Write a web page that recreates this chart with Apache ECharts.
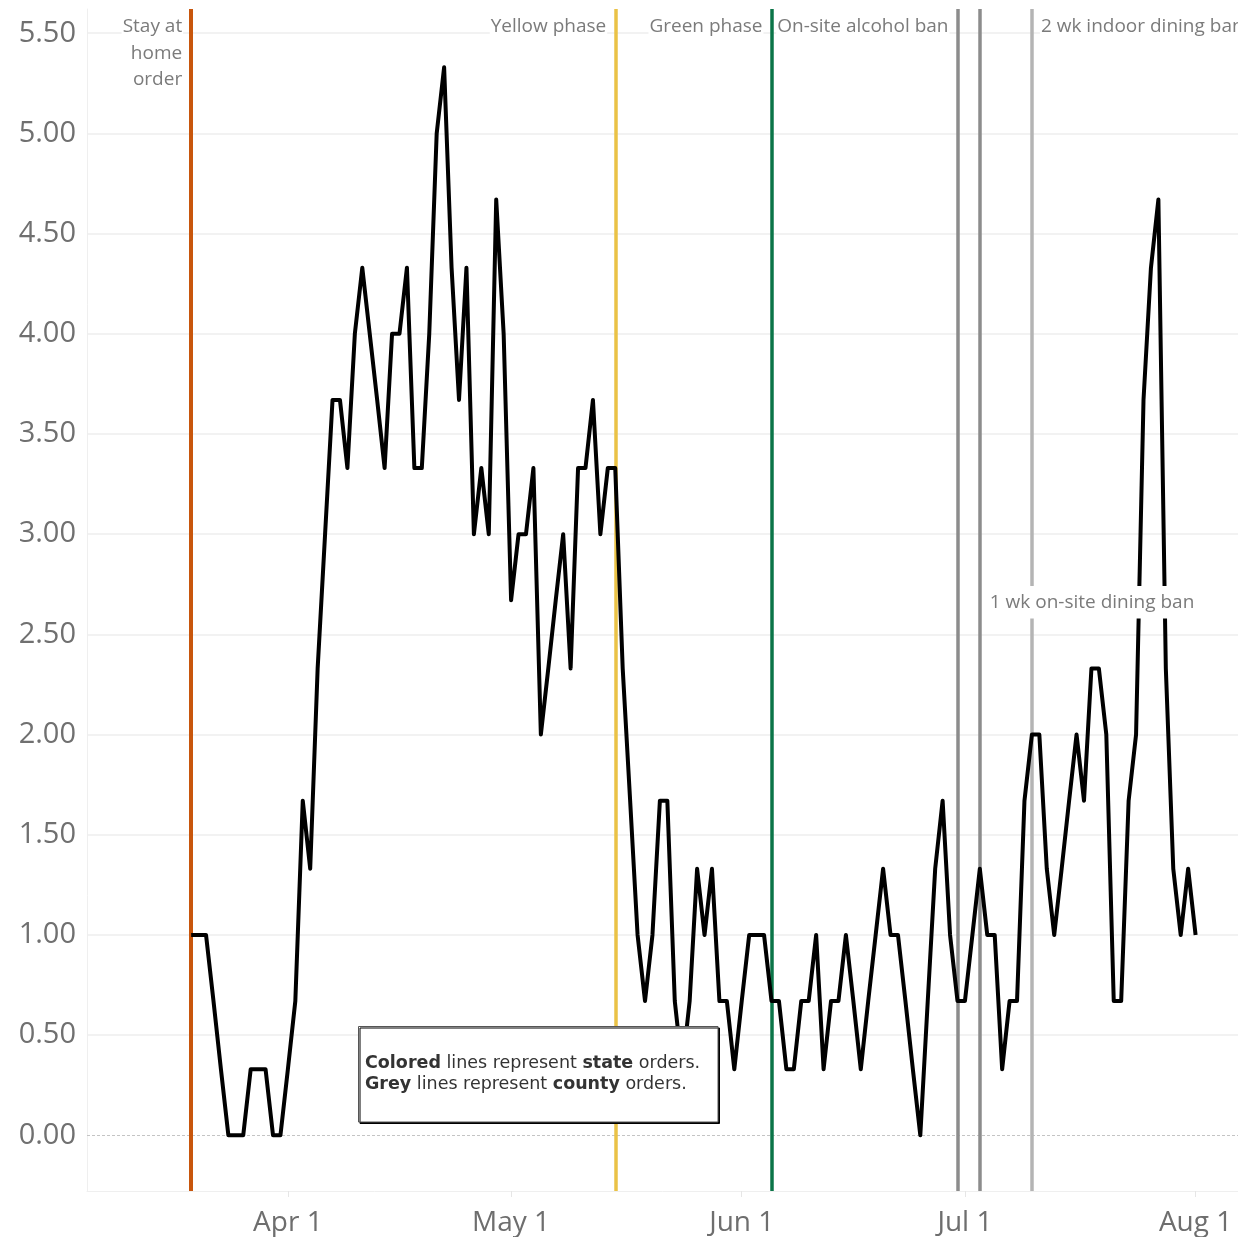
<!DOCTYPE html>
<html>
<head>
<meta charset="utf-8">
<script src="https://cdn.jsdelivr.net/npm/echarts@6/dist/echarts.min.js"></script>
<style>
  html, body { margin: 0; padding: 0; background: #ffffff; }
  #chart { width: 1238px; height: 1237px; }
</style>
</head>
<body>
<div id="chart"></div>
<script>
// ---------- DATA ----------
const startDate = '2020-03-19';   // first day of the series, one value per day
const dailyValues = [
  1.00, 1.00, 1.00, 0.67, 0.33, 0.00, 0.00, 0.00, 0.33, 0.33, 0.33, 0.00, 0.00,        // Mar 19 - Mar 31
  0.33, 0.67, 1.67, 1.33, 2.33, 3.00, 3.67, 3.67, 3.33, 4.00, 4.33, 4.00, 3.67, 3.33,  // Apr 1 - Apr 14
  4.00, 4.00, 4.33, 3.33, 3.33, 4.00, 5.00, 5.33, 4.33, 3.67, 4.33, 3.00, 3.33, 3.00,  // Apr 15 - Apr 28
  4.67, 4.00,                                                                          // Apr 29 - Apr 30
  2.67, 3.00, 3.00, 3.33, 2.00, 2.33, 2.67, 3.00, 2.33, 3.33, 3.33, 3.67, 3.00, 3.33,  // May 1 - May 14
  3.33, 2.33, 1.67, 1.00, 0.67, 1.00, 1.67, 1.67, 0.67, 0.33, 0.67, 1.33, 1.00, 1.33,  // May 15 - May 28
  0.67, 0.67, 0.33,                                                                    // May 29 - May 31
  0.67, 1.00, 1.00, 1.00, 0.67, 0.67, 0.33, 0.33, 0.67, 0.67, 1.00, 0.33, 0.67, 0.67,  // Jun 1 - Jun 14
  1.00, 0.67, 0.33, 0.67, 1.00, 1.33, 1.00, 1.00, 0.67, 0.33, 0.00, 0.67, 1.33, 1.67,  // Jun 15 - Jun 28
  1.00, 0.67,                                                                          // Jun 29 - Jun 30
  0.67, 1.00, 1.33, 1.00, 1.00, 0.33, 0.67, 0.67, 1.67, 2.00, 2.00, 1.33, 1.00, 1.33,  // Jul 1 - Jul 14
  1.67, 2.00, 1.67, 2.33, 2.33, 2.00, 0.67, 0.67, 1.67, 2.00, 3.67, 4.33, 4.67, 2.33,  // Jul 15 - Jul 28
  1.33, 1.00, 1.33,                                                                    // Jul 29 - Jul 31
  1.00                                                                                 // Aug 1
];
const yTicks = [0, 0.5, 1, 1.5, 2, 2.5, 3, 3.5, 4, 4.5, 5, 5.5];
const xTickDates = ['2020-04-01', '2020-05-01', '2020-06-01', '2020-07-01', '2020-08-01'];
const monthNames = ['Jan','Feb','Mar','Apr','May','Jun','Jul','Aug','Sep','Oct','Nov','Dec'];
const orderDates  = ['2020-03-19', '2020-05-15', '2020-06-05', '2020-06-30', '2020-07-03', '2020-07-10'];
const orderLabels = ['Stay at\nhome\norder', 'Yellow phase', 'Green phase', 'On-site alcohol ban', '1 wk on-site dining ban', '2 wk indoor dining ban'];

// ---------- STYLE (kept apart from data) ----------
const orderStyles = [
  { color: '#c8560c', width: 4,   side: 'left',  yPos: 5.40 },
  { color: '#eac246', width: 3.5, side: 'left',  yPos: 5.535 },
  { color: '#0b7548', width: 3.5, side: 'left',  yPos: 5.535 },
  { color: '#8c8c8c', width: 3.5, side: 'left',  yPos: 5.535 },
  { color: '#8c8c8c', width: 3.5, side: 'right', yPos: 2.66 },
  { color: '#b4b4b4', width: 3.5, side: 'right', yPos: 5.535 }
];

const DAY = 86400000;
function ts(s) { const p = s.split('-').map(Number); return Date.UTC(p[0], p[1] - 1, p[2]); }

const t0 = ts(startDate);
const seriesData = dailyValues.map((v, i) => [t0 + i * DAY, v]);

const gridMarks = yTicks.map(v => ({
  yAxis: v,
  lineStyle: v === 0 ? { color: '#c4c4c4', width: 1, type: [3, 2] } : { color: '#eeeeee', width: 1.5, type: 'solid' }
}));
const orderMarks = orderDates.map((d, i) => ({
  xAxis: ts(d),
  lineStyle: { color: orderStyles[i].color, width: orderStyles[i].width, type: 'solid' }
}));

const FONT = 'Open Sans';
const chart = echarts.init(document.getElementById('chart'), null, { renderer: 'canvas' });

const noteBox = [
  {
    type: 'rect',
    z: 100,
    shape: { x: 358.5, y: 1026.5, width: 359.5, height: 95.5 },
    style: { fill: '#ffffff', stroke: '#555555', lineWidth: 1,
             shadowColor: '#000000', shadowOffsetX: 1.5, shadowOffsetY: 1.5, shadowBlur: 0 }
  },
  {
    type: 'text',
    z: 101,
    x: 365,
    y: 1074,
    style: {
      text: '{b|Colored}{n| lines represent }{b|state}{n| orders.}\n{b|Grey}{n| lines represent }{b|county}{n| orders.}',
      verticalAlign: 'middle',
      align: 'left',
      fill: '#333333',
      font: '17.5px "DejaVu Sans"',
      lineHeight: 21,
      rich: {
        b: { fontFamily: 'DejaVu Sans', fontSize: 17.5, fontWeight: 'bold', fill: '#333333', lineHeight: 21 },
        n: { fontFamily: 'DejaVu Sans', fontSize: 17.5, fontWeight: 'normal', fill: '#333333', lineHeight: 21 }
      }
    }
  }
];

chart.setOption({
  animation: false,
  backgroundColor: '#ffffff',
  grid: { left: 87, right: 0, top: 9, bottom: 46, containLabel: false },
  xAxis: {
    type: 'value',
    min: ts('2020-03-05'),
    max: ts('2020-03-05') + 154.7 * DAY,
    axisLine: { show: true, onZero: false, lineStyle: { color: '#efefef', width: 1 } },
    axisTick: {
      show: true, length: 6, inside: false,
      customValues: xTickDates.map(ts),
      lineStyle: { color: '#e6e6e6', width: 1 }
    },
    axisLabel: {
      show: true,
      customValues: xTickDates.map(ts),
      formatter: function (v) { const d = new Date(v); return monthNames[d.getUTCMonth()] + ' ' + d.getUTCDate(); },
      fontFamily: FONT, fontSize: 28, color: '#6e6e6e', margin: 18, hideOverlap: false,
      showMinLabel: true, showMaxLabel: true
    },
    splitLine: { show: false }
  },
  yAxis: {
    type: 'value',
    min: -0.278,
    max: 5.621,
    axisLine: { show: true, lineStyle: { color: '#efefef', width: 1 } },
    axisTick: { show: false },
    axisLabel: {
      show: true,
      customValues: yTicks,
      formatter: function (v) { return Number(v).toFixed(2); },
      fontFamily: FONT, fontSize: 29, color: '#707070', margin: 11,
      padding: [4, 0, 0, 0],
      showMinLabel: true, showMaxLabel: true
    },
    splitLine: { show: false }
  },
  series: [
    {
      name: 'cases',
      type: 'line',
      data: seriesData,
      z: 10,
      showSymbol: false,
      symbol: 'none',
      lineStyle: { color: '#000000', width: 4, join: 'round' },
      markLine: {
        z: 1,
        silent: true,
        symbol: ['none', 'none'],
        label: { show: false },
        emphasis: { disabled: true },
        data: gridMarks.concat(orderMarks)
      }
    }
  ],
  graphic: noteBox
});

// Order labels, placed through the chart's own coordinate conversion
const orderTexts = orderDates.map((d, i) => {
  const st = orderStyles[i];
  const p = chart.convertToPixel({ gridIndex: 0 }, [ts(d), st.yPos]);
  const left = st.side === 'left';
  return {
    type: 'text',
    z: 120,
    x: left ? p[0] - 8 : p[0] + 8,
    y: p[1],
    style: {
      text: orderLabels[i],
      align: left ? 'right' : 'left',
      verticalAlign: 'middle',
      font: '19px "Open Sans"',
      fill: '#7b7b7b',
      lineHeight: 26.5,
      backgroundColor: '#ffffff',
      padding: i === 4 ? [3, 2, 3, 2] : [0, 1, 0, 1]
    }
  };
});
chart.setOption({ graphic: noteBox.concat(orderTexts) });
</script>
</body>
</html>
